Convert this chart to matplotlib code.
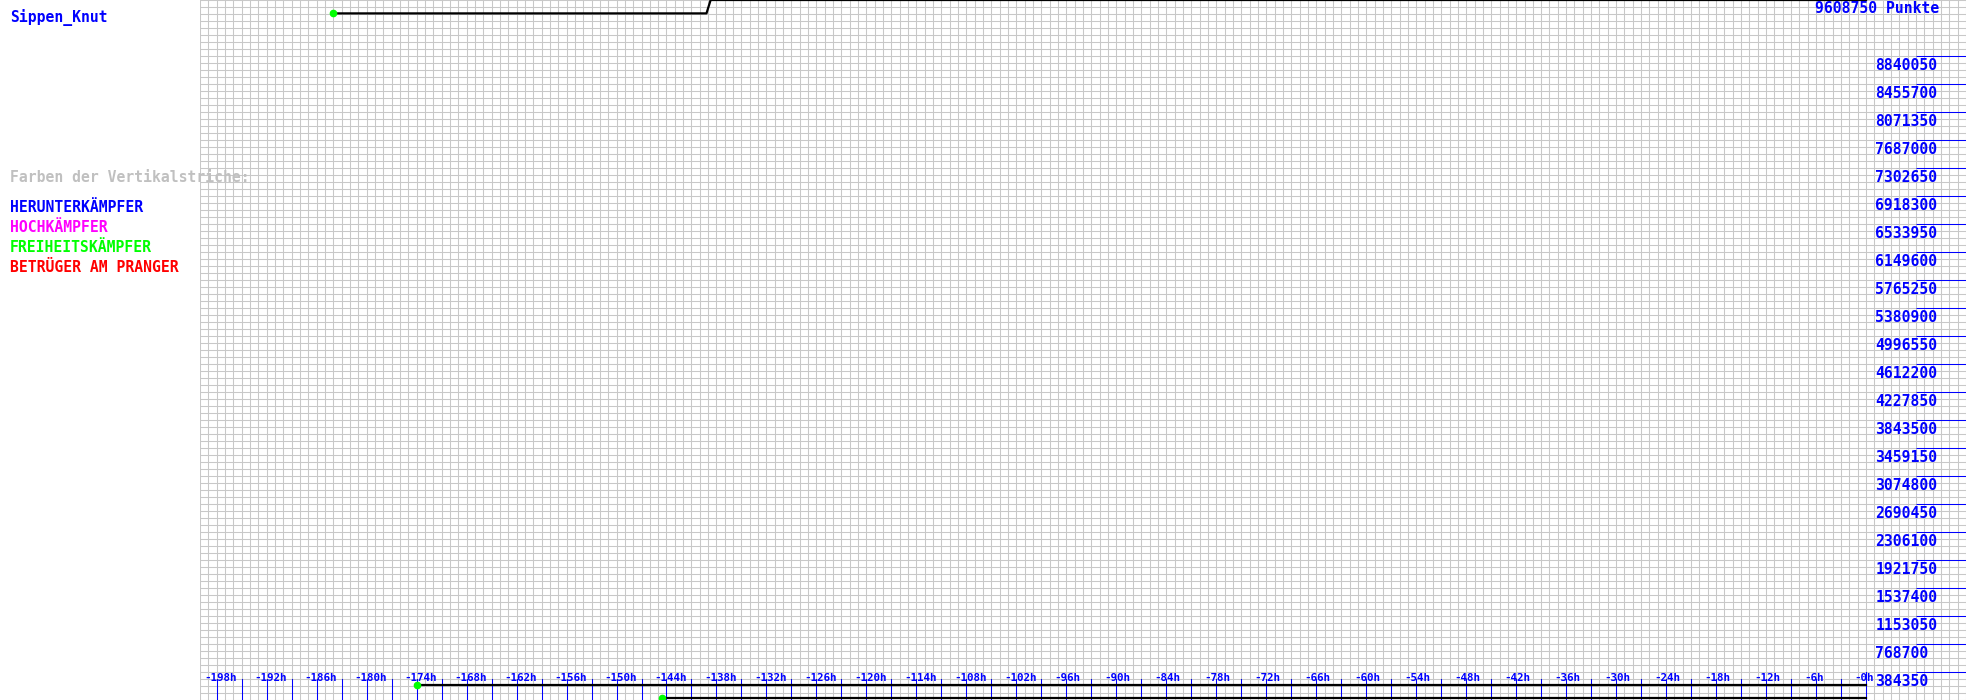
import numpy as np
import matplotlib
matplotlib.use("Agg")
import matplotlib.pyplot as plt
import matplotlib.transforms as mtransforms

# chart data (hours before now, points)
player = "Sippen_Knut"
max_points = 9608750
main_hours = [-184.0, -139.2, -138.7, 0.0]
main_points = [9425000, 9425000, 9608750, 9608750]
low1_hours = [-174.0, 0.0]
low1_points = [210000, 210000]
low2_hours = [-144.5, 0.0]
low2_points = [31500, 31500]

y_labels = [384350, 768700, 1153050, 1537400, 1921750, 2306100, 2690450,
            3074800, 3459150, 3843500, 4227850, 4612200, 4996550, 5380900,
            5765250, 6149600, 6533950, 6918300, 7302650, 7687000, 8071350,
            8455700, 8840050]
x_label_hours = list(range(-198, 1, 6))
x_tick_hours = list(range(-198, 1, 3))

legend_items = ["HERUNTERKÄMPFER", "HOCHKÄMPFER", "FREIHEITSKÄMPFER", "BETRÜGER AM PRANGER"]
legend_colors = ["#0000ff", "#ff00ff", "#00ff00", "#ff0000"]

W, H = 1966, 700
blue = "#0000ff"
txt = dict(family="DejaVu Sans Mono", fontweight="bold")

fig = plt.figure(figsize=(W / 100, H / 100), dpi=100)
ax = fig.add_axes([200 / W, 0, 1766 / W, 1])
ax.set_xlim(-200, 12)
ax.set_ylim(0, max_points)
ax.set_axis_off()

# grid: 1h wide cells, 1/100 of the range high
for h in range(-200, 13):
    ax.axvline(h, color="#c8c8c8", lw=0.75, zorder=0)
for v in np.linspace(0, max_points, 101):
    ax.axhline(v, color="#c8c8c8", lw=0.75, zorder=0)

# time ticks and labels at the bottom
xb = mtransforms.blended_transform_factory(ax.transData, ax.transAxes)
for h in x_tick_hours:
    top = 28 / H if h == 0 else 21 / H
    ax.plot([h, h], [0, top], color=blue, lw=0.75, transform=xb, zorder=2)
lab_tr = mtransforms.offset_copy(xb, fig=fig, x=-12, y=0, units="dots")
for h in x_label_hours:
    ax.text(h, 19 / H, "-%dh" % abs(h), color=blue, fontsize=7.8,
            ha="left", va="baseline", transform=lab_tr, zorder=3, **txt)

# point levels at the right
ax.hlines(y_labels, 6, 12, colors=blue, lw=0.75, zorder=2)
ylab_tr = mtransforms.offset_copy(ax.transData, fig=fig, x=0, y=-2, units="dots")
for v in y_labels:
    ax.text(1.1, v, str(v), color=blue, fontsize=10.6,
            ha="left", va="top", transform=ylab_tr, zorder=3, **txt)

# series
for hs, ps in [(main_hours, main_points), (low1_hours, low1_points), (low2_hours, low2_points)]:
    ax.plot(hs, ps, color="black", lw=1.6, zorder=4, clip_on=False)
    ax.plot(hs[0], ps[0], "o", color="#00ff00", ms=4.5, zorder=5, clip_on=False)

# texts outside / over the plot
def fx(x):
    return x / W

def fy(y):
    return 1 - y / H

fig.text(fx(1815), fy(1), "%d Punkte" % max_points, color=blue, fontsize=10.6,
         ha="left", va="top", **txt)
fig.text(fx(10), fy(18), player, color=blue, fontsize=10.6,
         ha="left", va="center", **txt)
fig.text(fx(10), fy(178), "Farben der Vertikalstriche:", color="#c0c0c0",
         fontsize=10.6, ha="left", va="center", zorder=10, **txt)
for i, (name, col) in enumerate(zip(legend_items, legend_colors)):
    fig.text(fx(10), fy(208 + 20 * i), name, color=col, fontsize=10.6,
             ha="left", va="center", **txt)

fig.savefig("out.png", dpi=100)
